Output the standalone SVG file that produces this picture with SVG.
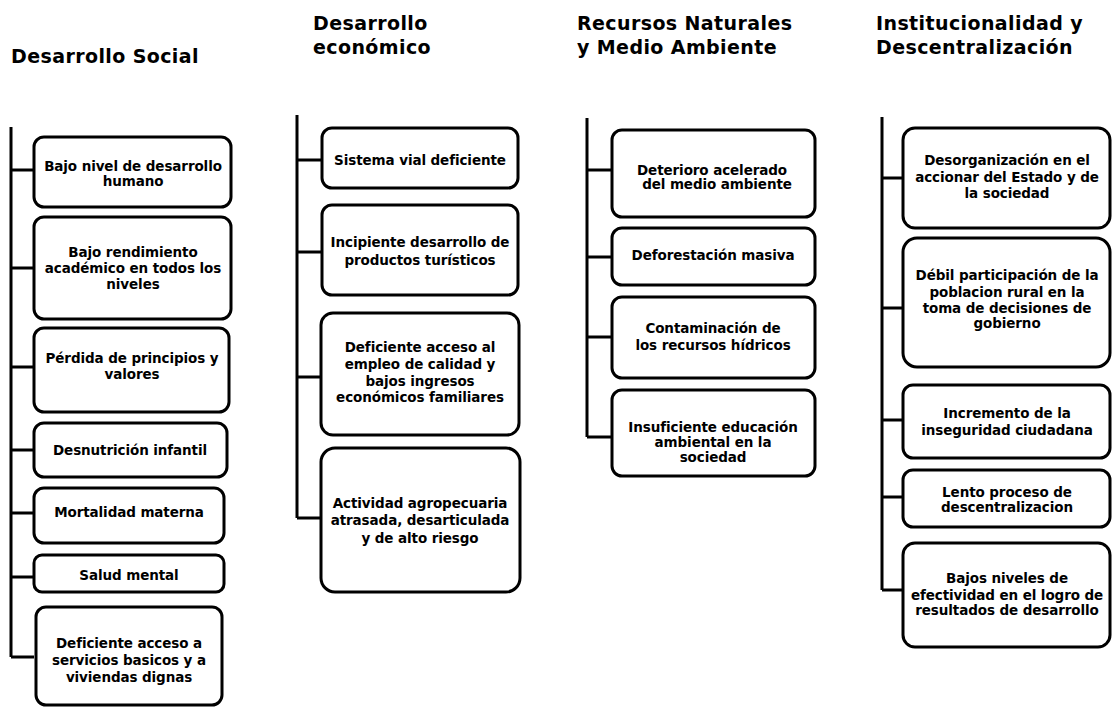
<svg xmlns="http://www.w3.org/2000/svg" width="1117" height="707" viewBox="0 0 1117 707">
<style>
.bg{fill:#fff}
.box{fill:#fff;stroke:#000;stroke-width:3}
.t{font-family:"DejaVu Sans",Verdana,sans-serif;font-weight:bold;font-size:13.5px;fill:#000;text-anchor:middle;letter-spacing:-0.1px}
.h{font-family:"DejaVu Sans",Verdana,sans-serif;font-weight:bold;font-size:19px;fill:#000;letter-spacing:0.4px}
.c{fill:none;stroke:#000;stroke-width:3}
</style>
<rect class="bg" x="0" y="0" width="1117" height="707"/>
<g id="titles">
<text class="h" x="11" y="63">Desarrollo Social</text>
<text class="h" x="313" y="30">Desarrollo</text>
<text class="h" x="313" y="54">económico</text>
<text class="h" x="577" y="30">Recursos Naturales</text>
<text class="h" x="577" y="54">y Medio Ambiente</text>
<text class="h" x="876" y="30">Institucionalidad y</text>
<text class="h" x="876" y="54">Descentralización</text>
</g>
<g id="connectors">
<path class="c" d="M11 127 V657 M11 170 H34 M11 268 H34 M11 367 H34 M11 450 H34 M11 513 H34 M11 577 H34 M11 657 H34"/>
<path class="c" d="M297 115 V518 M297 160 H322 M297 252 H322 M297 377 H322 M297 518 H322"/>
<path class="c" d="M587 118 V437 M587 170 H612 M587 257 H612 M587 337 H612 M587 437 H612"/>
<path class="c" d="M882 117 V590 M882 178 H903 M882 308 H903 M882 420 H903 M882 497 H903 M882 590 H903"/>
</g>
<g id="s1"><rect class="box" x="34" y="137" width="197" height="70" rx="10"/><text class="t"><tspan x="133" y="171">Bajo nivel de desarrollo</tspan><tspan x="133" y="186">humano</tspan></text></g>
<g id="s2"><rect class="box" x="34" y="217" width="197" height="102" rx="10"/><text class="t"><tspan x="133" y="257">Bajo rendimiento</tspan><tspan x="133" y="273">académico en todos los</tspan><tspan x="133" y="289">niveles</tspan></text></g>
<g id="s3"><rect class="box" x="34" y="328" width="195" height="84" rx="10"/><text class="t"><tspan x="132" y="363">Pérdida de principios y</tspan><tspan x="132" y="379">valores</tspan></text></g>
<g id="s4"><rect class="box" x="34" y="423" width="193" height="54" rx="10"/><text class="t" x="130" y="455">Desnutrición infantil</text></g>
<g id="s5"><rect class="box" x="34" y="488" width="190" height="55" rx="10"/><text class="t" x="129" y="517">Mortalidad materna</text></g>
<g id="s6"><rect class="box" x="34" y="555" width="190" height="37" rx="8"/><text class="t" x="129" y="580">Salud mental</text></g>
<g id="s7"><rect class="box" x="36" y="607" width="186" height="98" rx="10"/><text class="t"><tspan x="129" y="648">Deficiente acceso a</tspan><tspan x="129" y="665">servicios basicos y a</tspan><tspan x="129" y="682">viviendas dignas</tspan></text></g>

<g id="e1"><rect class="box" x="322" y="128" width="196" height="60" rx="10"/><text class="t" x="420" y="165">Sistema vial deficiente</text></g>
<g id="e2"><rect class="box" x="322" y="205" width="196" height="90" rx="10"/><text class="t"><tspan x="420" y="247">Incipiente desarrollo de</tspan><tspan x="420" y="265">productos turísticos</tspan></text></g>
<g id="e3"><rect class="box" x="321" y="313" width="198" height="122" rx="12"/><text class="t"><tspan x="420" y="352">Deficiente acceso al</tspan><tspan x="420" y="369">empleo de calidad y</tspan><tspan x="420" y="386">bajos ingresos</tspan><tspan x="420" y="402">económicos familiares</tspan></text></g>
<g id="e4"><rect class="box" x="321" y="448" width="199" height="144" rx="14"/><text class="t"><tspan x="420" y="508">Actividad agropecuaria</tspan><tspan x="420" y="525">atrasada, desarticulada</tspan><tspan x="420" y="543">y de alto riesgo</tspan></text></g>

<g id="r1"><rect class="box" x="612" y="130" width="203" height="87" rx="10"/><text class="t"><tspan x="712" y="175">Deterioro acelerado</tspan><tspan x="717" y="189">del medio ambiente</tspan></text></g>
<g id="r2"><rect class="box" x="612" y="228" width="203" height="57" rx="10"/><text class="t" x="713" y="260">Deforestación masiva</text></g>
<g id="r3"><rect class="box" x="612" y="297" width="203" height="81" rx="10"/><text class="t"><tspan x="713" y="333">Contaminación de</tspan><tspan x="713" y="350">los recursos hídricos</tspan></text></g>
<g id="r4"><rect class="box" x="612" y="390" width="203" height="86" rx="10"/><text class="t"><tspan x="713" y="432">Insuficiente educación</tspan><tspan x="713" y="447">ambiental en la</tspan><tspan x="713" y="462">sociedad</tspan></text></g>

<g id="i1"><rect class="box" x="903" y="128" width="207" height="100" rx="12"/><text class="t"><tspan x="1007" y="165">Desorganización en el</tspan><tspan x="1007" y="182">accionar del Estado y de</tspan><tspan x="1007" y="198">la sociedad</tspan></text></g>
<g id="i2"><rect class="box" x="903" y="238" width="207" height="129" rx="14"/><text class="t"><tspan x="1007" y="280">Débil participación de la</tspan><tspan x="1007" y="297">poblacion rural en la</tspan><tspan x="1007" y="313">toma de decisiones de</tspan><tspan x="1007" y="328">gobierno</tspan></text></g>
<g id="i3"><rect class="box" x="903" y="385" width="207" height="73" rx="10"/><text class="t"><tspan x="1007" y="418">Incremento de la</tspan><tspan x="1007" y="435">inseguridad ciudadana</tspan></text></g>
<g id="i4"><rect class="box" x="903" y="470" width="207" height="57" rx="10"/><text class="t"><tspan x="1007" y="497">Lento proceso de</tspan><tspan x="1007" y="512">descentralizacion</tspan></text></g>
<g id="i5"><rect class="box" x="903" y="543" width="207" height="104" rx="12"/><text class="t"><tspan x="1007" y="583">Bajos niveles de</tspan><tspan x="1007" y="600">efectividad en el logro de</tspan><tspan x="1007" y="615">resultados de desarrollo</tspan></text></g>
</svg>
